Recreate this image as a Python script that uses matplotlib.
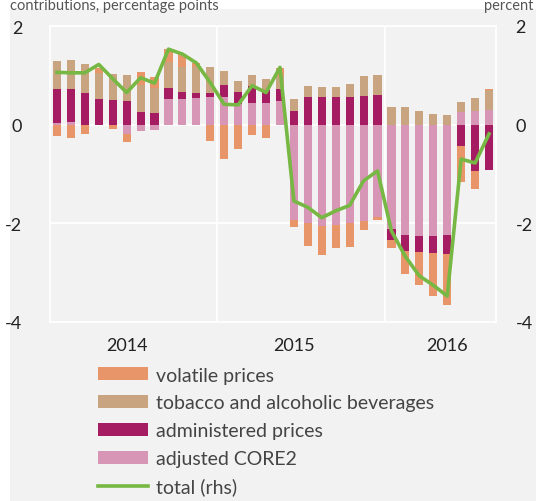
import matplotlib
matplotlib.use("Agg")
import matplotlib.pyplot as plt
from matplotlib.patches import Rectangle
import numpy as np

plt.rcParams['axes.unicode_minus'] = False
plt.rcParams['font.family'] = ['Lato', 'DejaVu Sans']

# monthly data, Jan 2014 - Aug 2016
volatile = [-0.24, -0.28, -0.20, 0.10, -0.10, -0.17, 0.27, 0.22, 0.27, 0.27, 0.09, -0.33,
            -0.70, -0.50, -0.22, -0.28, 0.17, -0.15, -0.46, -0.59, -0.47, -0.49, -0.19, -0.06,
            -0.15, -0.48, -0.67, -0.86, -1.03, -0.73, -0.37, 0.03]
tobacco = [0.56, 0.59, 0.59, 0.53, 0.53, 0.53, 0.54, 0.50, 0.52, 0.51, 0.51, 0.51,
           0.28, 0.22, 0.22, 0.22, 0.26, 0.25, 0.22, 0.21, 0.21, 0.26, 0.42, 0.42,
           0.35, 0.35, 0.27, 0.21, 0.19, 0.20, 0.26, 0.40]
administered = [0.68, 0.66, 0.64, 0.52, 0.50, 0.48, 0.26, 0.24, 0.22, 0.15, 0.12, 0.10,
                0.26, 0.25, 0.36, 0.26, 0.24, 0.27, 0.56, 0.55, 0.55, 0.56, 0.57, 0.59,
                -0.23, -0.31, -0.32, -0.34, -0.38, -0.43, -0.94, -0.92]
core2 = [0.04, 0.06, 0.00, 0.00, 0.00, -0.19, -0.13, -0.12, 0.52, 0.51, 0.53, 0.55,
         0.55, 0.42, 0.43, 0.44, 0.48, -1.93, -2.00, -2.06, -2.04, -1.99, -1.95, -1.87,
         -2.12, -2.25, -2.27, -2.27, -2.25, 0.25, 0.27, 0.30]
total = [1.06, 1.05, 1.05, 1.22, 0.93, 0.65, 0.95, 0.84, 1.53, 1.43, 1.25, 0.85,
         0.41, 0.40, 0.79, 0.65, 1.16, -1.55, -1.68, -1.89, -1.75, -1.64, -1.14, -0.94,
         -2.16, -2.68, -3.07, -3.26, -3.48, -0.70, -0.78, -0.19]
years = ["2014", "2015", "2016"]
year_pos = [5, 17, 28]

W, H = 536, 502
fig = plt.figure(figsize=(W / 100, H / 100), dpi=100)
fig.patches.append(Rectangle((10 / W, 0), 1, 1 - 10 / H, transform=fig.transFigure,
                             facecolor='#f2f2f2', edgecolor='none', zorder=-10))

ax = fig.add_axes([50 / W, 1 - 322.7 / H, 446 / W, 295.7 / H])
ax.set_facecolor('#f2f2f2')

x = np.arange(len(total))
series = [(core2, '#d896b6', 'adjusted CORE2'),
          (administered, '#a51c62', 'administered prices'),
          (tobacco, '#c8a580', 'tobacco and alcoholic beverages'),
          (volatile, '#e89669', 'volatile prices')]
pos = np.zeros(len(x))
neg = np.zeros(len(x))
handles = {}
for vals, col, lab in series:
    v = np.array(vals)
    bottom = np.where(v >= 0, pos, neg)
    b = ax.bar(x, v, 0.58, bottom=bottom, color=col, zorder=3, label=lab)
    handles[lab] = b
    pos += np.where(v >= 0, v, 0)
    neg += np.where(v < 0, v, 0)

ax.set_xlim(-0.5, 31.5)
ax.set_ylim(-4, 2)
ax.set_yticks([-4, -2, 0, 2])
ax.set_xticks(year_pos)
ax.set_xticklabels(years)
ax.set_xticks([11.5, 23.5], minor=True)
ax.grid(True, axis='y', color='white', lw=1.3, zorder=1)
ax.grid(True, axis='x', which='minor', color='white', lw=1.3, zorder=1)
for s in ax.spines.values():
    s.set_color('white')
    s.set_linewidth(1.3)
ax.tick_params(axis='both', which='both', length=0, labelsize=13, colors='#222222')
ax.tick_params(axis='y', pad=20)
ax.tick_params(axis='x', pad=11)

ax2 = ax.twinx()
ax2.set_ylim(-4, 2)
ax2.set_yticks([-4, -2, 0, 2])
line, = ax2.plot(x, total, color='#76b843', lw=2.6, zorder=5, label='total (rhs)')
for s in ax2.spines.values():
    s.set_visible(False)
ax2.tick_params(axis='y', length=0, labelsize=13, colors='#222222', pad=14)

order = ['volatile prices', 'tobacco and alcoholic beverages',
         'administered prices', 'adjusted CORE2']
leg = fig.legend([handles[o] for o in order] + [line], order + ['total (rhs)'],
                 loc='upper left', bbox_to_anchor=(90 / W, 1 - 360 / H),
                 frameon=False, prop={'family': 'Lato', 'size': 14},
                 handlelength=2.6, handleheight=0.65, labelspacing=0.55,
                 handletextpad=0.4, borderaxespad=0)
for t in leg.get_texts():
    t.set_color('#444444')

fig.text(10 / W, 1 - 10 / H, "contributions, percentage points", ha='left', va='baseline',
         fontsize=10.5, color='#555555')
fig.text(1 - 3 / W, 1 - 10 / H, "percent", ha='right', va='baseline',
         fontsize=10.5, color='#555555')

fig.savefig('out.png', dpi=100)
